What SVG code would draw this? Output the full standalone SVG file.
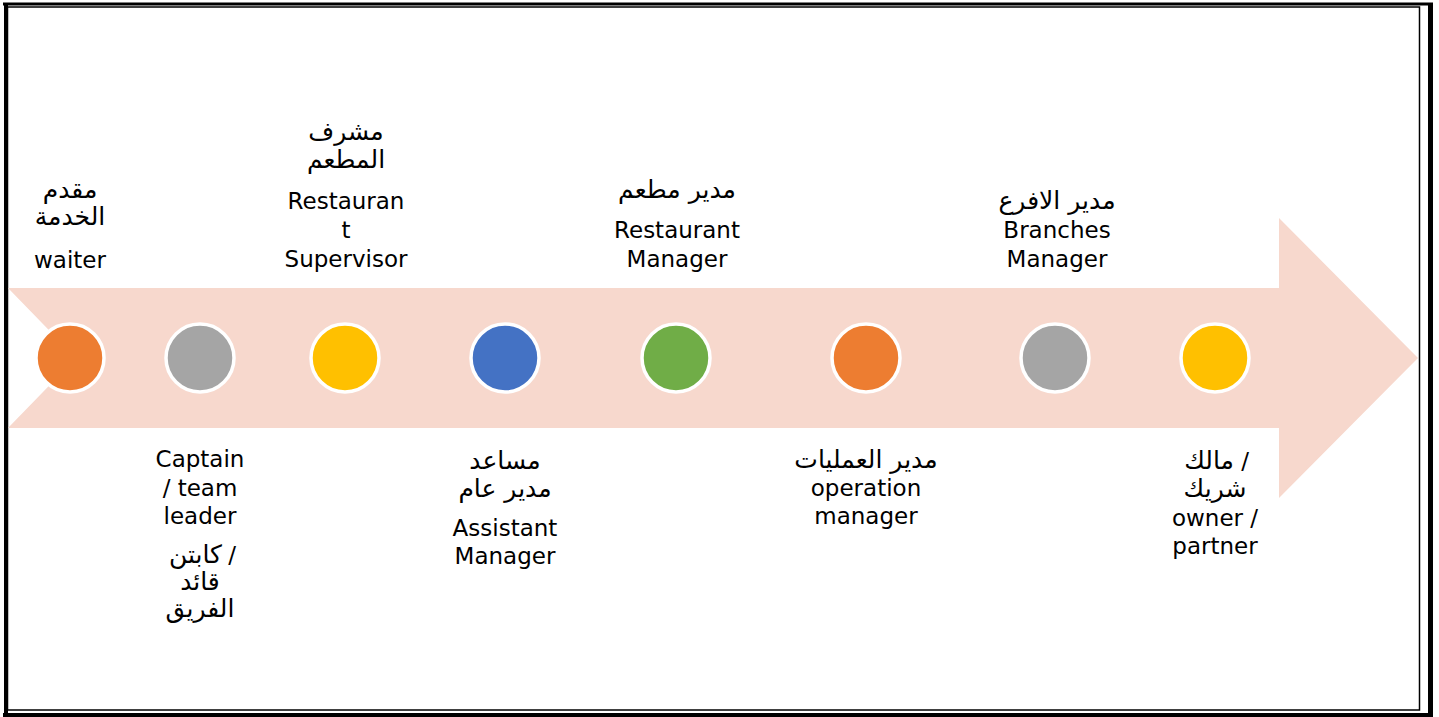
<svg xmlns="http://www.w3.org/2000/svg" width="1439" height="717" viewBox="0 0 1439 717">
<style>
  text { font-family: "DejaVu Sans", "Noto Sans", sans-serif; font-size: 23px; fill: #000; text-anchor: middle; }
  text.ar { font-size: 25px; }
  text.end { text-anchor: end; }
  .dot { stroke: #fff; stroke-width: 3.5; }
  .frame { fill: none; stroke: #000; }
</style>
<rect x="0" y="0" width="1439" height="717" fill="#fff"/>
<g id="frame">
  <line class="frame" x1="3" y1="4" x2="1433" y2="4" stroke-width="3"/>
  <line class="frame" x1="6" y1="3" x2="6" y2="717" stroke-width="4"/>
  <line class="frame" x1="1430.5" y1="3" x2="1430.5" y2="717" stroke-width="5"/>
  <line class="frame" x1="3" y1="715" x2="1433" y2="715" stroke-width="4"/>
  <rect class="frame" x="7.5" y="7" width="1412" height="703" stroke-width="1.5"/>
</g>
<g id="arrow">
  <polygon points="8,288 1279,288 1279,218 1418,358 1279,498 1279,428 8,428 76,358" fill="#F7D8CD"/>
</g>
<g id="connectors"></g>
<g id="node-waiter">
  <circle class="dot" cx="70" cy="358" r="34" fill="#ED7D31"/>
  <text class="ar" x="70" y="198">مقدم</text>
  <text class="ar" x="70" y="225">الخدمة</text>
  <text x="70" y="268">waiter</text>
</g>
<g id="node-captain">
  <circle class="dot" cx="200" cy="358" r="34" fill="#A5A5A5"/>
  <text x="200" y="467">Captain</text>
  <text x="200" y="496">/ team</text>
  <text x="200" y="524">leader</text>
  <text class="ar end" x="222" y="563">كابتن</text>
  <text x="232" y="563">/</text>
  <text class="ar" x="200" y="590">قائد</text>
  <text class="ar" x="200" y="617">الفريق</text>
</g>
<g id="node-supervisor">
  <circle class="dot" cx="345" cy="358" r="34" fill="#FFC000"/>
  <text class="ar" x="346" y="140">مشرف</text>
  <text class="ar" x="346" y="168">المطعم</text>
  <text x="346" y="209">Restauran</text>
  <text x="346" y="238">t</text>
  <text x="346" y="267">Supervisor</text>
</g>
<g id="node-assistant">
  <circle class="dot" cx="505" cy="358" r="34" fill="#4472C4"/>
  <text class="ar" x="505" y="469">مساعد</text>
  <text class="ar" x="505" y="497">مدير عام</text>
  <text x="505" y="536">Assistant</text>
  <text x="505" y="564">Manager</text>
</g>
<g id="node-restaurant-manager">
  <circle class="dot" cx="676" cy="358" r="34" fill="#70AD47"/>
  <text class="ar" x="677" y="198">مدير مطعم</text>
  <text x="677" y="238">Restaurant</text>
  <text x="677" y="267">Manager</text>
</g>
<g id="node-operation">
  <circle class="dot" cx="866" cy="358" r="34" fill="#ED7D31"/>
  <text class="ar" x="866" y="468">مدير العمليات</text>
  <text x="866" y="496">operation</text>
  <text x="866" y="524">manager</text>
</g>
<g id="node-branches">
  <circle class="dot" cx="1055" cy="358" r="34" fill="#A5A5A5"/>
  <text class="ar" x="1057" y="209">مدير الافرع</text>
  <text x="1057" y="238">Branches</text>
  <text x="1057" y="267">Manager</text>
</g>
<g id="node-owner">
  <circle class="dot" cx="1215" cy="358" r="34" fill="#FFC000"/>
  <text class="ar end" x="1234" y="469">مالك</text>
  <text x="1245" y="469">/</text>
  <text class="ar" x="1215" y="497">شريك</text>
  <text x="1215" y="526">owner /</text>
  <text x="1215" y="554">partner</text>
</g>
</svg>
